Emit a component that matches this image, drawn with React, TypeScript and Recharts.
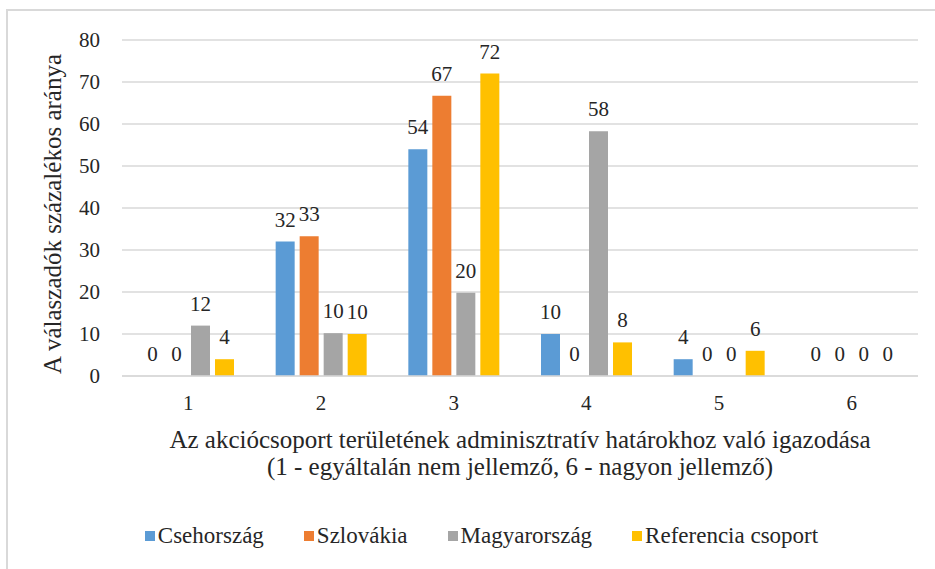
import React from "react";
import { BarChart, Bar, XAxis, YAxis, CartesianGrid, LabelList } from "recharts";

const categories = ["1", "2", "3", "4", "5", "6"];
const csehorszag = [0, 32, 54, 10, 4, 0];
const szlovakia = [0, 33.3, 66.7, 0, 0, 0];
const magyarorszag = [12, 10.2, 19.8, 58.3, 0, 0];
const referencia = [4, 10, 72, 8, 6, 0];
const yTicks = [0, 10, 20, 30, 40, 50, 60, 70, 80];

const seriesNames = ["Csehország", "Szlovákia", "Magyarország", "Referencia csoport"];
const seriesKeys = ["cz", "sk", "hu", "rc"];
const colors = ["#5B9BD5", "#ED7D31", "#A5A5A5", "#FFC000"];

const xTitle1 = "Az akciócsoport területének adminisztratív határokhoz való igazodása";
const xTitle2 = "(1 - egyáltalán nem jellemző, 6 - nagyon jellemző)";
const yTitle = "A válaszadók százalékos aránya";

const data = categories.map((c, i) => ({
  cat: c,
  cz: csehorszag[i],
  sk: szlovakia[i],
  hu: magyarorszag[i],
  rc: referencia[i],
}));

const FONT = "'Liberation Serif', 'Times New Roman', Times, Tinos, 'DejaVu Serif', serif";
const TEXT = "#262626";

function LegendBox() {
  return (
    <div
      style={{
        position: "absolute",
        left: 0,
        top: 523,
        width: 963,
        display: "flex",
        justifyContent: "center",
        alignItems: "center",
        fontFamily: FONT,
        fontSize: 23,
        color: TEXT,
        gap: 40,
      }}
    >
      {seriesNames.map((n, i) => (
        <div key={n} style={{ display: "flex", alignItems: "center" }}>
          <span style={{ width: 10, height: 10, background: colors[i], display: "inline-block", marginRight: 3 }} />
          <span>{n}</span>
        </div>
      ))}
    </div>
  );
}

function XTitleBox() {
  return (
    <div
      style={{
        position: "absolute",
        left: 122,
        width: 796,
        top: 426,
        textAlign: "center",
        fontFamily: FONT,
        fontSize: 25,
        lineHeight: "27px",
        color: TEXT,
        whiteSpace: "nowrap",
      }}
    >
      <div>{xTitle1}</div>
      <div>{xTitle2}</div>
    </div>
  );
}

export default function App() {
  return (
    <div style={{ position: "absolute", left: 0, top: 0, width: 935, height: 569, overflow: "hidden", background: "#fff" }}>
      <div
        style={{
          position: "absolute",
          left: 6,
          top: 9,
          width: 1000,
          height: 1000,
          border: "2px solid #D9D9D9",
          boxSizing: "border-box",
        }}
      />
      <div style={{ position: "absolute", left: 0, top: 0 }}>
        <BarChart
          width={935}
          height={569}
          data={data}
          margin={{ top: 40, right: 17, left: 0, bottom: 133 }}
          barSize={19}
          barGap={5}
        >
          <CartesianGrid vertical={false} stroke="#D9D9D9" strokeWidth={1.5} />
          <XAxis
            dataKey="cat"
            height={60}
            tickLine={false}
            tickSize={0}
            tickMargin={19}
            axisLine={{ stroke: "#D9D9D9", strokeWidth: 1.5 }}
            tick={{ fontFamily: FONT, fontSize: 21, fill: TEXT }}
          />
          <YAxis
            width={122}
            domain={[0, 80]}
            ticks={yTicks}
            interval={0}
            tickLine={false}
            axisLine={false}
            tickSize={0}
            tickMargin={22}
            tick={{ fontFamily: FONT, fontSize: 21, fill: TEXT }}
            label={{
              value: yTitle,
              angle: -90,
              position: "insideLeft",
              offset: 52,
              dy: 6,
              style: { textAnchor: "middle", fontFamily: FONT, fontSize: 25, fill: TEXT },
            }}
          />
          {seriesKeys.map((k, i) => (
            <Bar
              key={k}
              dataKey={k}
              name={seriesNames[i]}
              fill={colors[i]}
              minPointSize={0.01}
              isAnimationActive={false}
            >
              <LabelList
                dataKey={k}
                position="top"
                offset={15}
                formatter={(v: any) => String(Math.round(Number(v)))}
                style={{ fontFamily: FONT, fontSize: 21, fill: TEXT }}
              />
            </Bar>
          ))}
        </BarChart>
      </div>
      <XTitleBox />
      <LegendBox />
    </div>
  );
}
